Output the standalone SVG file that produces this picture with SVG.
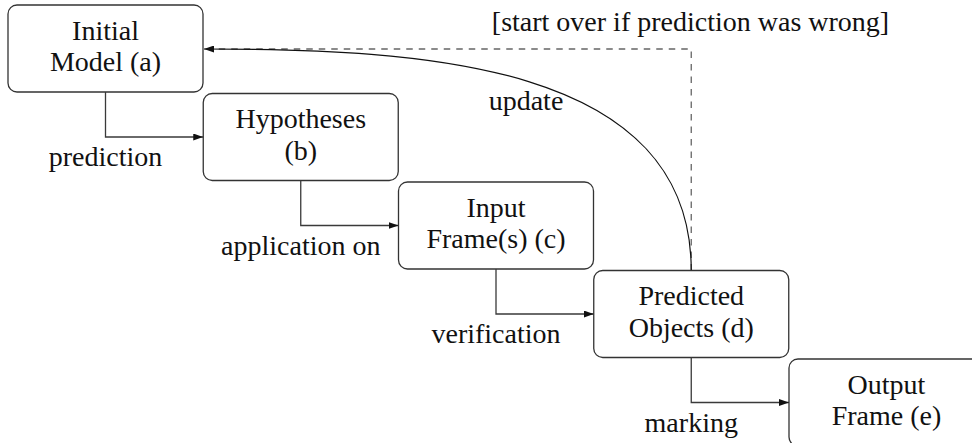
<svg xmlns="http://www.w3.org/2000/svg" width="972" height="443" viewBox="0 0 972 443">
  <style>
    .box { fill: #ffffff; stroke: #333333; stroke-width: 1.3; }
    .t { font-family: 'Liberation Serif', 'DejaVu Serif', serif; font-size: 28px; fill: #111111; text-anchor: middle; }
    .link { fill: none; stroke: #3a3a3a; stroke-width: 1.3; }
    .dash { fill: none; stroke: #666666; stroke-width: 1.3; stroke-dasharray: 6.5 6; }
    .curve { fill: none; stroke: #111111; stroke-width: 1.2; }
  </style>
  <defs>
    <marker id="tip" viewBox="0 0 10 7" refX="10" refY="3.5" markerWidth="10" markerHeight="7" markerUnits="userSpaceOnUse" orient="auto">
      <path d="M0,0 L10,3.5 L0,7 Z" fill="#111111"/>
    </marker>
  </defs>

  <rect width="972" height="443" fill="#ffffff"/>

  <!-- pipeline stages -->
  <g id="node-a">
    <rect class="box" x="8" y="5" width="195" height="87" rx="9"/>
    <text class="t" x="105.5" y="39.5">Initial</text>
    <text class="t" x="105.5" y="71">Model (a)</text>
  </g>
  <g id="node-b">
    <rect class="box" x="203.25" y="93.5" width="195" height="87" rx="9"/>
    <text class="t" x="300.75" y="128">Hypotheses</text>
    <text class="t" x="300.75" y="159.5">(b)</text>
  </g>
  <g id="node-c">
    <rect class="box" x="398.5" y="182" width="195" height="87" rx="9"/>
    <text class="t" x="496" y="216.5">Input</text>
    <text class="t" x="496" y="248">Frame(s) (c)</text>
  </g>
  <g id="node-d">
    <rect class="box" x="593.75" y="270.5" width="195" height="87" rx="9"/>
    <text class="t" x="691.25" y="305">Predicted</text>
    <text class="t" x="691.25" y="336.5">Objects (d)</text>
  </g>
  <g id="node-e">
    <rect class="box" x="789" y="359" width="195" height="87" rx="9"/>
    <text class="t" x="886.5" y="393.5">Output</text>
    <text class="t" x="886.5" y="425">Frame (e)</text>
  </g>

  <!-- connectors -->
  <g id="connectors">
    <path class="link" d="M105.5,92 V137 H203.25" marker-end="url(#tip)"/>
    <path class="link" d="M300.75,180.5 V225.5 H398.5" marker-end="url(#tip)"/>
    <path class="link" d="M496,269 V314 H593.75" marker-end="url(#tip)"/>
    <path class="link" d="M691.25,357.5 V402.5 H789" marker-end="url(#tip)"/>

    <!-- retry path back to the model -->
    <path class="dash" d="M691.25,270.5 V49 H210"/>
    <!-- update feedback -->
    <path class="curve" d="M691.25,270.5 C691.25,62 420,49 204,49" marker-end="url(#tip)"/>

    <text class="t" x="105.5" y="166">prediction</text>
    <text class="t" x="300.75" y="255">application on</text>
    <text class="t" x="496" y="343">verification</text>
    <text class="t" x="691.25" y="431.5">marking</text>
    <text class="t" x="526" y="110">update</text>
    <text class="t" x="690.5" y="31">[start over if prediction was wrong]</text>
  </g>
</svg>
